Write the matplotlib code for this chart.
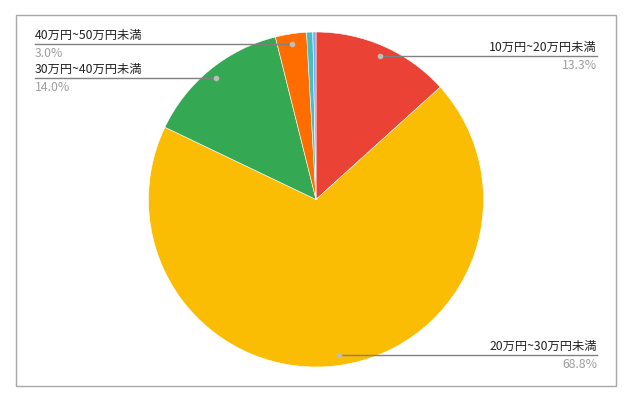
import numpy as np
import matplotlib
matplotlib.use("Agg")
import matplotlib.pyplot as plt
from matplotlib.patches import Rectangle

plt.rcParams['font.family'] = ['Noto Sans CJK JP', 'DejaVu Sans']

# Data
labels = ["10万円~20万円未満", "20万円~30万円未満", "30万円~40万円未満",
          "40万円~50万円未満", "50万円~60万円未満", "60万円以上"]
values = [13.3, 68.8, 14.0, 3.0, 0.6, 0.3]
colors = ["#ea4335", "#fbbc04", "#34a853", "#ff6d01", "#46bdc6", "#7baaf7"]
shown = [0, 1, 2, 3]          # slices that get a leader label
label_side = ["right", "right", "left", "left"]

W, H = 634, 402
fig = plt.figure(figsize=(W / 100, H / 100), dpi=100)
ax = fig.add_axes([0, 0, 1, 1])

cx, cy, r = 316, 201.5, 167.5
wedges, _ = ax.pie(values, colors=colors, startangle=90, counterclock=False,
                   center=(cx, cy), radius=r, frame=True,
                   wedgeprops=dict(linewidth=0.4, edgecolor="white"))
ax.set_xlim(0, W)
ax.set_ylim(0, H)
ax.set_aspect('equal')
ax.axis('off')

# outer frame
ax.add_patch(Rectangle((15.5, 15.5), 601, 371, fill=False, ec="#a8a8a8", lw=1))

total = sum(values)
for i, side in zip(shown, label_side):
    w = wedges[i]
    ang = np.deg2rad((w.theta1 + w.theta2) / 2)
    dx = cx + 0.94 * r * np.cos(ang)
    dy = cy + 0.94 * r * np.sin(ang)
    pct = f"{values[i] / total * 100:.1f}%"
    if side == "right":
        x_end = 597
        ax.plot([dx, x_end], [dy, dy], color="#808080", lw=1, zorder=5)
        ax.text(x_end, dy + 3, labels[i], ha="right", va="bottom",
                fontsize=8.8, color="#222222")
        ax.text(x_end, dy - 2, pct, ha="right", va="top",
                fontsize=8.8, color="#9e9e9e")
    else:
        x_start = 35
        ax.plot([x_start, dx], [dy, dy], color="#808080", lw=1, zorder=5)
        ax.text(x_start, dy + 3, labels[i], ha="left", va="bottom",
                fontsize=8.8, color="#222222")
        ax.text(x_start, dy - 2, pct, ha="left", va="top",
                fontsize=8.8, color="#9e9e9e")
    ax.plot(dx, dy, 'o', color="#bdbdbd", markersize=3, zorder=6)

fig.savefig("out.png", dpi=100)
